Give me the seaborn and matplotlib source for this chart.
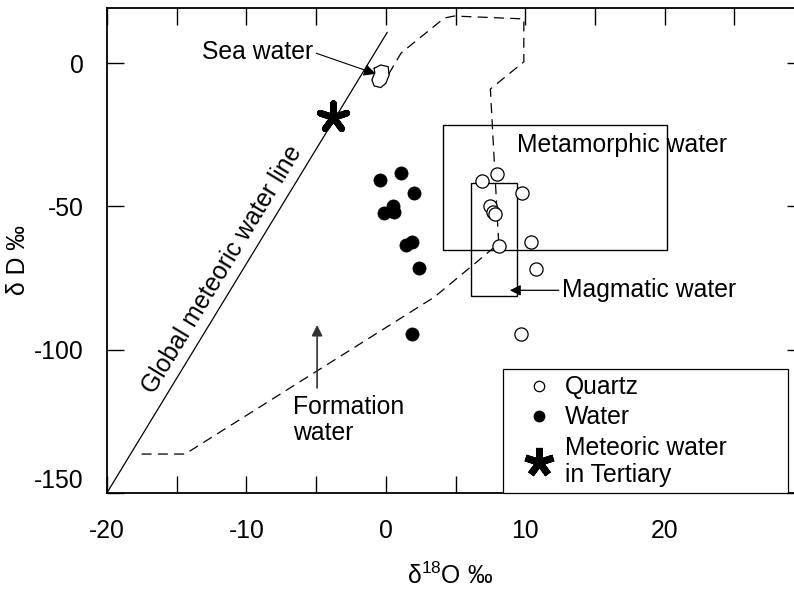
import numpy as np
import pandas as pd
import matplotlib
matplotlib.use("Agg")
import matplotlib.pyplot as plt
import seaborn as sns
from matplotlib.lines import Line2D
from matplotlib.patches import Rectangle

# quartz samples (open circles)
quartz_o18 = [6.9, 8.0, 9.8, 7.5, 7.7, 7.8, 8.1, 10.4, 10.8, 9.7]
quartz_dD = [-41.0, -38.7, -45.4, -49.8, -51.8, -52.8, -63.8, -62.3, -71.8, -94.7]

# water samples (filled circles)
water_o18 = [-0.4, 1.1, 2.0, 0.55, -0.1, 0.6, 1.45, 1.9, 2.4, 1.85]
water_dD = [-40.8, -38.4, -45.4, -49.8, -52.4, -51.8, -63.5, -62.3, -71.6, -94.6]

# meteoric water in Tertiary
tert_o18 = [-3.8]
tert_dD = [-18.6]

# global meteoric water line dD = 8*d18O + 10
gmwl_o18 = [-20, 0.1]

# formation water envelope (dashed)
env_o18 = [0.2, 1.1, 4.2, 4.9, 9.9, 9.9, 7.5, 8.1, 3.5, -14.4, -17.8]
env_dD = [-3.8, 3.6, 15.8, 16.5, 15.5, 0.5, -9.0, -63.0, -81.6, -136.5, -136.5]

# sea water field
sea_o18 = [-0.84, -0.36, 0.17, 0.24, 0.0, -0.36, -0.84, -1.0, -0.79, -0.84]
sea_dD = [-1.75, -0.6, -1.2, -4.1, -7.0, -8.5, -7.9, -5.8, -3.4, -1.75]

# metamorphic and magmatic boxes: (o18 min, o18 max, dD min, dD max)
meta_box = (4.1, 20.2, -65.2, -21.5)
magma_box = (6.1, 9.4, -81.3, -41.9)

xticks = list(range(-20, 31, 5))
xticklabels = ['-20', '', '-10', '', '0', '', '10', '', '20', '', '']
yticks = [-150, -100, -50, 0]
yticklabels = ['-150', '-100', '-50', '0']

sns.set_style("ticks")
plt.rcParams['font.family'] = ['Liberation Sans', 'DejaVu Sans']
plt.rcParams['mathtext.fontset'] = 'custom'
plt.rcParams['mathtext.rm'] = 'Liberation Sans'
plt.rcParams['axes.unicode_minus'] = False
for key in ['text.color', 'axes.labelcolor', 'xtick.color', 'ytick.color',
            'xtick.labelcolor', 'ytick.labelcolor', 'axes.edgecolor']:
    plt.rcParams[key] = 'black'
fs = 17.8

fig = plt.figure(figsize=(7.94, 5.9), dpi=100)
ax = fig.add_axes([0.1348, 0.1649, 0.8778, 0.8215])

df_q = pd.DataFrame({"o18": quartz_o18, "dD": quartz_dD})
df_w = pd.DataFrame({"o18": water_o18, "dD": water_dD})

# lines and fields
gmwl_dD = [8 * v + 10 for v in gmwl_o18]
ax.plot(gmwl_o18, gmwl_dD, color='black', lw=0.9)
ax.plot(env_o18, env_dD, color='black', lw=0.9, ls=(0, (8, 5)))
ax.plot(sea_o18, sea_dD, color='black', lw=0.9)

for (x0, x1, y0, y1) in [meta_box, magma_box]:
    ax.add_patch(Rectangle((x0, y0), x1 - x0, y1 - y0, fill=False,
                           edgecolor='black', lw=1.0))

# points
sns.scatterplot(data=df_w, x="o18", y="dD", color='black', s=90,
                edgecolor='black', linewidth=0.5, ax=ax, zorder=4)
sns.scatterplot(data=df_q, x="o18", y="dD", facecolor='white', s=90,
                edgecolor='black', linewidth=0.9, ax=ax, zorder=4)
ax.scatter(tert_o18, tert_dD, marker=(5, 2, 0), s=400, color='black',
           linewidths=4.8, zorder=5)

# annotations
ax.annotate('Sea water', xy=(-0.72, -3.7), xytext=(-13.2, 3.9),
            fontsize=fs, ha='left', va='center',
            arrowprops=dict(arrowstyle='-|>', color='black', lw=0.8,
                            mutation_scale=18, shrinkA=0, shrinkB=0,
                            relpos=(1.0, 0.5)))
ax.text(9.4, -28.6, 'Metamorphic water', fontsize=fs, ha='left', va='center')
ax.annotate('Magmatic water', xy=(8.9, -79.3), xytext=(12.64, -79.3),
            fontsize=fs, ha='left', va='center',
            arrowprops=dict(arrowstyle='-|>', color='black', lw=0.9,
                            mutation_scale=16, shrinkA=0, shrinkB=0,
                            relpos=(0.0, 0.5)))
ax.annotate('', xy=(-4.93, -91.4), xytext=(-4.93, -113.4),
            arrowprops=dict(arrowstyle='-|>', color='#333333', lw=1.2,
                            mutation_scale=16, shrinkA=0, shrinkB=0))
ax.text(-6.66, -115.8, 'Formation\nwater', fontsize=fs, ha='left', va='top',
        linespacing=1.1)
ax.text(-11.75, -72.2, 'Global meteoric water line', fontsize=fs,
        ha='center', va='center', rotation=58.67, rotation_mode='anchor')

# legend
handles = [
    Line2D([], [], ls='none', marker='o', markersize=7.5, markerfacecolor='white',
           markeredgecolor='black', markeredgewidth=0.9),
    Line2D([], [], ls='none', marker='o', markersize=7.5, markerfacecolor='black',
           markeredgecolor='black'),
    Line2D([], [], ls='none', marker=(5, 2, 0), markersize=21, color='black',
           markeredgewidth=5.0),
]
labels = ['Quartz', 'Water', 'Meteoric water\nin Tertiary']
leg = ax.legend(handles, labels, loc='lower left',
                bbox_to_anchor=(0.568, 0.0, 0.409, 0.26), mode='expand',
                borderaxespad=0, fontsize=fs, frameon=True, fancybox=False,
                edgecolor='black', framealpha=1, borderpad=0.25,
                labelspacing=0.25, handlelength=2.4, handletextpad=-0.15)
leg.get_frame().set_linewidth(0.9)
for t in leg.get_texts():
    t.set_linespacing(1.15)

# axes
ax.set_xlim(-20, 30)
ax.set_ylim(-150, 19.3)
ax.set_xticks(xticks)
ax.set_xticklabels(xticklabels, fontsize=fs)
ax.set_yticks(yticks)
ax.set_yticklabels(yticklabels, fontsize=fs)
ax.get_yticklabels()[0].set_va('bottom')
ax.tick_params(axis='both', direction='in', length=12.5, width=1.0,
               top=True, right=True, color='black', labelcolor='black')
ax.tick_params(axis='x', pad=19)
ax.tick_params(axis='y', pad=17)
for side in ['left', 'bottom', 'top', 'right']:
    ax.spines[side].set_linewidth(1.3)
    ax.spines[side].set_color('black')

ax.set_xlabel(r'δ$^{\mathrm{18}}$O ‰', fontsize=fs, color='black')
ax.set_ylabel('δ D ‰', fontsize=fs, color='black')
ax.xaxis.set_label_coords(0.492, -0.144)
ax.yaxis.set_label_coords(-0.11, 0.48)

fig.savefig('out.png', dpi=100)
